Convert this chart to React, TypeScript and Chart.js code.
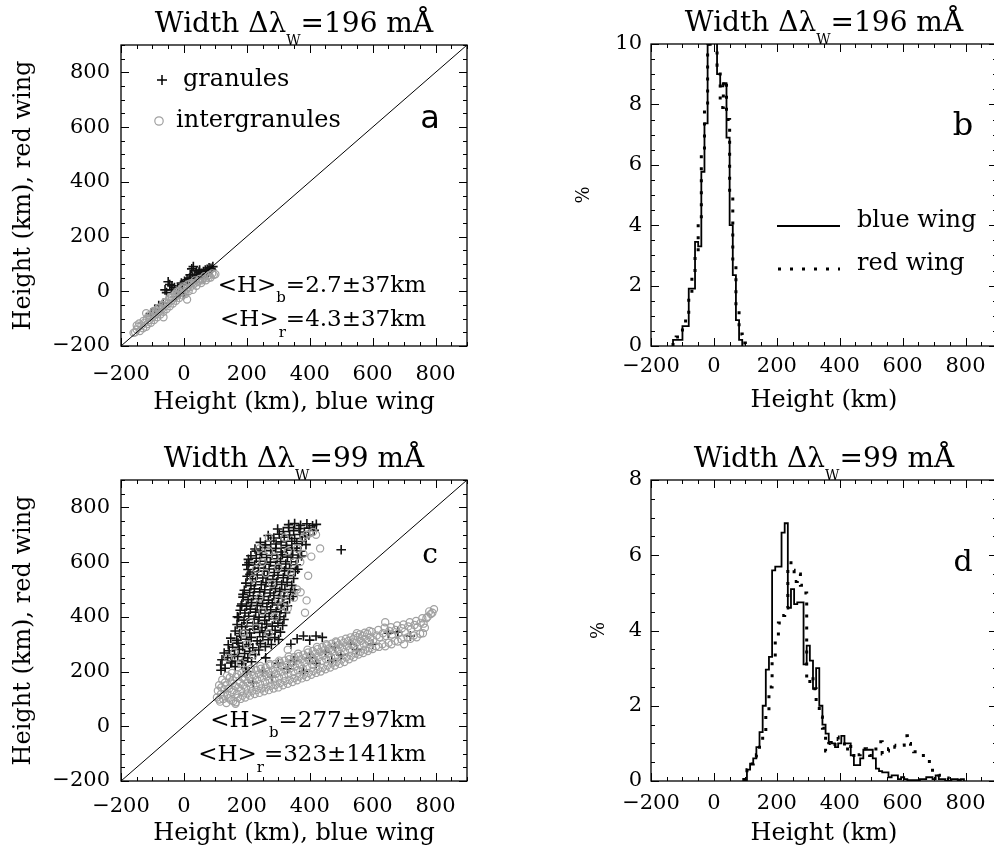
import React, { useEffect, useRef } from "react";
import { Chart, registerables } from "chart.js";

Chart.register(...registerables);

const SERIF = "'DejaVu Serif', serif";
const SANS = "'DejaVu Sans', sans-serif";

// ---------------- axes ----------------
const HEIGHT_MIN = -200;
const HEIGHT_MAX = 900;
const HEIGHT_TICKS = [-200, 0, 200, 400, 600, 800];
const PERCENT_TICKS_B = [0, 2, 4, 6, 8, 10];
const PERCENT_TICKS_D = [0, 2, 4, 6, 8];
const DIAGONAL = [-200, 900];

// ---------------- panel a : width 196 mÅ ----------------
const granulesA: [number, number][] = [
  [30, 90], [25, 82], [40, 75], [48, 70], [55, 66], [62, 72], [68, 78], [74, 80], [80, 86], [86, 84],
  [92, 90], [88, 78], [78, 70], [66, 64], [58, 58], [45, 62], [35, 60], [28, 52], [18, 48], [10, 42],
  [2, 36], [-8, 30], [-50, 35], [-45, 25], [-38, 20], [-30, 14], [-55, -5], [-60, 5], [-20, 12], [-12, -5],
  [0, -12], [10, 28], [-25, -20], [-66, -44], [-80, -52], [-92, -66], [-105, -82], [40, 44], [60, 52], [-5, 24],
  [70, 66], [84, 74], [50, 78], [20, 60], [-40, 5],
];
const intergranulesA: [number, number][] = [
  [-155, -150], [-150, -140], [-145, -130], [-140, -145], [-135, -125], [-130, -135], [-125, -115], [-120, -130],
  [-118, -100], [-115, -120], [-110, -105], [-108, -90], [-105, -115], [-100, -95], [-98, -80], [-95, -105],
  [-90, -85], [-88, -70], [-85, -95], [-80, -75], [-78, -60], [-75, -85], [-70, -65], [-68, -50], [-65, -75],
  [-60, -55], [-58, -40], [-55, -65], [-50, -45], [-48, -30], [-45, -55], [-40, -35], [-38, -20], [-35, -45],
  [-30, -25], [-28, -10], [-25, -35], [-20, -15], [-18, 0], [-15, -25], [-10, -5], [-8, 10], [-5, -15], [0, 0],
  [2, 15], [5, -10], [10, 10], [12, 25], [15, 0], [20, 15], [25, 30], [28, 5], [30, 25], [35, 40], [40, 20],
  [45, 35], [50, 45], [55, 30], [60, 45], [65, 55], [70, 40], [75, 55], [80, 60], [85, 50], [90, 65], [95, 60],
  [100, 62], [10, -30], [-120, -80], [-65, -95], [-142, -118], [-128, -108], [-112, -88], [-96, -72], [-82, -62],
  [-62, -42], [-44, -22], [-22, -2], [-2, 18], [18, 28], [38, 32], [58, 40], [78, 48], [-160, -152], [-150, -125],
];

// ---------------- panel c : width 99 mÅ ----------------
const granulesC: [number, number][] = [
  [117, 224], [131, 212], [149, 231], [163, 218], [184, 229], [196, 214],
  [121, 243], [139, 251], [152, 238], [171, 255], [189, 240], [203, 250], [215, 236],
  [128, 268], [144, 276], [161, 262], [176, 281], [193, 266], [209, 274], [227, 262], [238, 279],
  [141, 298], [155, 289], [172, 304], [187, 292], [206, 299], [219, 287], [243, 302], [259, 291], [278, 299],
  [149, 322], [168, 314], [181, 329], [199, 318], [214, 325], [233, 312], [251, 327], [268, 316], [289, 324], [301, 317],
  [163, 348], [177, 339], [196, 352], [209, 341], [224, 355], [241, 343], [259, 349], [273, 337], [290, 351], [307, 344],
  [169, 372], [184, 364], [201, 378], [219, 366], [236, 376], [248, 361], [263, 374], [281, 366], [299, 377], [314, 368],
  [174, 398], [191, 388], [206, 402], [223, 391], [239, 399], [257, 387], [271, 401], [288, 392], [305, 400], [318, 390],
  [179, 424], [194, 414], [211, 428], [228, 417], [244, 425], [259, 412], [276, 426], [293, 418], [309, 427], [323, 415],
  [184, 447], [199, 439], [215, 452], [233, 441], [250, 449], [264, 437], [281, 451], [297, 443], [314, 452], [329, 440],
  [188, 472], [204, 463], [221, 477], [237, 466], [254, 474], [269, 461], [286, 478], [301, 468], [318, 476], [336, 466], [347, 474],
  [192, 497], [209, 489], [224, 502], [241, 491], [257, 499], [274, 487], [291, 503], [305, 493], [321, 500], [339, 490], [352, 499],
  [197, 523], [213, 514], [228, 528], [246, 517], [261, 525], [279, 512], [295, 527], [311, 518], [328, 526], [343, 515],
  [201, 548], [218, 539], [233, 553], [251, 542], [266, 550], [283, 537], [299, 552], [316, 543], [331, 551], [349, 540],
  [204, 573], [221, 564], [237, 578], [255, 567], [271, 575], [287, 562], [303, 577], [320, 568], [336, 576], [354, 565], [362, 574],
  [207, 598], [225, 589], [241, 603], [259, 592], [275, 600], [292, 587], [307, 602], [324, 593], [341, 601], [357, 590],
  [213, 623], [230, 614], [247, 628], [263, 617], [280, 625], [296, 612], [313, 627], [329, 618], [346, 626], [363, 615], [374, 622],
  [226, 648], [243, 639], [259, 653], [276, 642], [292, 650], [309, 637], [326, 652], [343, 643], [359, 651], [371, 640],
  [243, 672], [259, 663], [276, 677], [293, 666], [309, 674], [326, 661], [343, 676], [359, 667], [376, 675], [388, 664],
  [268, 697], [286, 688], [303, 702], [319, 691], [336, 699], [352, 686], [369, 701], [386, 692], [397, 699],
  [298, 721], [316, 712], [333, 726], [349, 715], [366, 723], [383, 710], [399, 724], [414, 716],
  [333, 737], [352, 741], [371, 734], [391, 740], [409, 733], [421, 738],
  [205, 610], [200, 590], [210, 555], [188, 482], [182, 440], [170, 400], [118, 205], [230, 640],
  [500, 645], [650, 340], [680, 345], [720, 330], [380, 330], [420, 330], [360, 320], [340, 300], [400, 315], [440, 325],
  [250, 200], [300, 230], [350, 240], [400, 250], [450, 270], [500, 260], [550, 280], [220, 160], [280, 180],
  [330, 210], [420, 230], [480, 290], [530, 300], [200, 200], [260, 250], [600, 300], [380, 200], [470, 240],
];
const intergranulesC: [number, number][] = [
  [105, 105], [108, 130], [115, 90], [118, 118], [112, 150], [125, 100], [128, 135], [122, 170],
  [135, 85], [138, 115], [133, 150], [137, 185], [150, 95], [152, 125], [148, 160], [153, 195],
  [165, 88], [168, 118], [162, 148], [166, 180], [180, 100], [182, 130], [178, 160], [183, 195],
  [195, 105], [198, 138], [193, 170], [197, 205], [210, 112], [212, 145], [208, 178], [213, 210],
  [225, 118], [228, 150], [223, 185], [240, 122], [242, 155], [238, 190], [243, 220],
  [255, 128], [258, 162], [253, 195], [270, 132], [272, 168], [268, 200], [273, 228],
  [285, 138], [288, 172], [283, 205], [300, 142], [302, 178], [298, 212], [303, 240],
  [315, 150], [318, 185], [313, 218], [330, 155], [332, 190], [328, 225], [333, 255],
  [345, 162], [348, 198], [343, 232], [360, 168], [362, 205], [358, 238], [363, 265],
  [375, 175], [378, 210], [373, 245], [390, 180], [392, 218], [388, 252], [393, 280],
  [405, 188], [408, 225], [403, 258], [420, 195], [422, 232], [418, 265], [423, 290],
  [435, 200], [438, 238], [433, 272], [450, 208], [452, 245], [448, 280], [453, 300],
  [465, 215], [468, 252], [463, 285], [480, 222], [482, 258], [478, 292], [483, 310],
  [495, 228], [498, 265], [493, 298], [510, 235], [512, 272], [508, 305],
  [525, 245], [528, 280], [523, 312], [540, 252], [542, 288], [538, 318],
  [555, 262], [558, 295], [553, 325], [550, 340], [570, 268], [572, 300], [568, 330],
  [585, 275], [588, 308], [583, 338], [600, 282], [602, 315], [598, 345],
  [620, 290], [622, 325], [618, 352], [640, 292], [642, 330], [638, 360], [640, 380],
  [660, 300], [662, 335], [658, 362], [680, 310], [682, 340], [678, 368],
  [700, 300], [702, 345], [698, 372], [720, 320], [722, 355], [718, 380],
  [740, 325], [742, 362], [738, 385], [760, 340], [762, 375], [758, 395],
  [780, 420], [785, 410], [775, 400], [795, 428], [790, 415], [385, 415], [330, 280], [164, 82],
  [112, 98], [119, 142], [127, 112], [131, 160], [142, 102], [144, 138], [146, 178], [157, 92], [158, 132], [156, 168],
  [171, 104], [173, 142], [170, 190], [186, 112], [188, 150], [185, 178], [201, 120], [203, 158], [200, 190],
  [216, 128], [218, 165], [215, 198], [231, 132], [233, 170], [230, 205], [246, 138], [248, 176], [245, 210],
  [261, 142], [263, 182], [260, 215], [276, 148], [278, 188], [275, 222], [291, 152], [293, 192], [290, 228],
  [306, 158], [308, 198], [305, 232], [321, 165], [323, 205], [320, 240], [336, 170], [338, 212], [335, 245],
  [351, 176], [353, 218], [350, 252], [366, 182], [368, 225], [365, 256], [381, 188], [383, 232], [380, 262],
  [396, 195], [398, 240], [395, 270], [411, 202], [413, 245], [410, 275], [426, 208], [428, 252], [425, 282],
  [441, 214], [443, 258], [440, 290], [456, 222], [458, 265], [455, 295], [471, 230], [473, 272], [470, 302],
  [486, 236], [488, 280], [485, 306], [501, 244], [503, 286], [500, 314], [516, 252], [518, 292], [515, 320],
  [531, 258], [533, 298], [530, 325], [546, 266], [548, 305], [545, 330], [561, 272], [563, 312], [560, 336],
  [576, 280], [578, 318], [575, 342], [591, 285], [593, 325], [590, 348], [611, 292], [613, 332], [631, 300],
  [633, 340], [651, 305], [653, 348], [671, 312], [673, 352], [691, 318], [693, 358], [711, 325], [713, 365],
  [731, 332], [733, 370], [751, 338], [753, 378], [771, 395], [766, 360],
  [140, 250], [160, 270], [180, 230], [200, 300], [220, 260], [190, 340], [210, 380], [230, 360],
  [250, 420], [270, 340], [290, 400], [310, 440], [330, 430], [350, 470], [371, 490], [390, 460],
  [360, 500], [320, 480], [280, 520], [240, 470], [220, 540], [260, 560], [300, 580], [340, 560],
  [370, 600], [380, 630], [360, 650], [330, 640], [290, 620], [250, 600], [230, 575], [270, 690],
  [320, 690], [390, 700], [400, 705], [410, 710], [420, 700], [433, 650], [380, 690], [350, 600],
  [405, 620], [395, 550], [300, 460], [270, 640], [240, 650],
];

// ---------------- panel b : histogram, width 196 mÅ ----------------
const HIST_B_START = -130;
const HIST_B_BIN = 10;
const blueWingB = [0.2, 0.2, 0.2, 0.66, 0.66, 1.9, 1.9, 3.45, 3.3, 5.77, 7.37, 9.97, 10.8, 10.5, 9.0, 8.6, 8.7, 6.9, 4.0, 2.35, 0.86, 0.2];
const redWingB = [0.15, 0.3, 0.4, 0.6, 1.0, 1.7, 2.5, 3.0, 4.2, 6.4, 7.8, 10.0, 10.9, 10.2, 9.3, 7.9, 8.8, 7.5, 5.0, 2.8, 1.2, 0.4, 0.1];

// ---------------- panel d : histogram, width 99 mÅ ----------------
const HIST_D_START = 95;
const HIST_D_BIN = 10;
const blueWingD = [
  0, 0.3, 0.46, 0.6, 0.9, 1.3, 2.0, 2.96, 3.3, 5.6,
  5.7, 5.7, 6.6, 6.85, 4.6, 5.1, 4.7, 4.75, 4.75, 3.1,
  3.6, 3.2, 2.45, 3.0, 2.0, 1.5, 1.26, 1.04, 1.0, 0.9,
  1.0, 1.2, 1.0, 1.0, 0.68, 0.42, 0.42, 0.6, 0.83, 0.83,
  0.83, 0.6, 0.33, 0.26, 0.23, 0.23, 0.1, 0.15, 0.15, 0.05,
  0.1, 0.05, 0.02, 0.02, 0.02, 0.02, 0.05, 0.05, 0.1, 0.1,
  0.05, 0.15, 0.05, 0.05, 0, 0, 0.05, 0.05, 0, 0.05,
];
const redWingD = [
  0.1, 0.3, 0.45, 0.5, 0.7, 1.0, 1.3, 1.8, 2.5, 3.2,
  3.8, 4.2, 4.4, 4.6, 5.8, 5.6, 5.3, 5.5, 5.2, 5.0,
  2.6, 2.8, 2.45, 2.0, 1.7, 1.4, 0.8, 1.0, 0.9, 1.17,
  1.1, 1.04, 0.8, 1.0, 0.8, 0.6, 0.7, 0.86, 0.86, 0.75,
  0.68, 0.8, 0.9, 1.04, 0.72, 0.8, 0.86, 0.95, 0.9, 0.92,
  0.95, 1.2, 1.0, 0.9, 0.78, 0.68, 0.68, 0.68, 0.6, 0.37,
  0.24, 0.2, 0.15, 0.1, 0.08, 0.05, 0.02, 0.02, 0.02, 0.02,
];

// ---------------- helpers ----------------
const fmt = (v: number) => (v < 0 ? "\u2212" + Math.abs(v) : String(v));
const toPts = (arr: [number, number][]) => arr.map(([x, y]) => ({ x, y }));
function stepPoints(start: number, bin: number, values: number[]) {
  const pts = [{ x: start, y: 0 }];
  values.forEach((v, i) => pts.push({ x: start + i * bin, y: v }));
  pts.push({ x: start + values.length * bin, y: 0 });
  return pts;
}

type Part = { t: string; size: number; dy?: number; family?: string };
function drawRich(ctx: CanvasRenderingContext2D, parts: Part[], x: number, y: number, align: "left" | "center" | "right") {
  const widths = parts.map((p) => {
    ctx.font = `${p.size}px ${p.family || SERIF}`;
    return ctx.measureText(p.t).width;
  });
  const total = widths.reduce((a, b) => a + b, 0);
  let cx = align === "left" ? x : align === "center" ? x - total / 2 : x - total;
  ctx.textAlign = "left";
  ctx.textBaseline = "alphabetic";
  ctx.fillStyle = "#000";
  parts.forEach((p, i) => {
    ctx.font = `${p.size}px ${p.family || SERIF}`;
    ctx.fillText(p.t, cx, y + (p.dy || 0));
    cx += widths[i];
  });
}

function framePlugin(xMajor: number, xMinor: number, yMajor: number, yMinor: number) {
  return {
    id: "frameTicks",
    afterDatasetsDraw(chart: any) {
      const { ctx, chartArea: a, scales } = chart;
      const xs = scales.x;
      const ys = scales.y;
      ctx.save();
      ctx.strokeStyle = "#000";
      ctx.lineWidth = 1.3;
      ctx.strokeRect(a.left, a.top, a.right - a.left, a.bottom - a.top);
      ctx.beginPath();
      const major = 8;
      const minor = 4;
      for (let v = xs.min; v <= xs.max + 1e-9; v += xMinor) {
        const isMajor = Math.abs(((v - xs.min) / xMajor) - Math.round((v - xs.min) / xMajor)) < 1e-6;
        const len = isMajor ? major : minor;
        const p = Math.round(xs.getPixelForValue(v)) + 0.5;
        ctx.moveTo(p, a.bottom);
        ctx.lineTo(p, a.bottom - len);
        ctx.moveTo(p, a.top);
        ctx.lineTo(p, a.top + len);
      }
      for (let v = ys.min; v <= ys.max + 1e-9; v += yMinor) {
        const isMajor = Math.abs(((v - ys.min) / yMajor) - Math.round((v - ys.min) / yMajor)) < 1e-6;
        const len = isMajor ? major : minor;
        const p = Math.round(ys.getPixelForValue(v)) + 0.5;
        ctx.moveTo(a.left, p);
        ctx.lineTo(a.left + len, p);
        ctx.moveTo(a.right, p);
        ctx.lineTo(a.right - len, p);
      }
      ctx.lineWidth = 1;
      ctx.stroke();
      ctx.restore();
    },
  };
}

type Layout = { yWidth: number; padTop: number; padRight: number; xHeight: number; xTickPad: number; xTitlePad: number; yTickPad: number; yTitlePad: number };

function axes(L: Layout, xTitle: string, yTitle: string, yTitleSize: number, yMin: number, yMax: number, yTicks: number[]) {
  return {
    x: {
      type: "linear",
      min: HEIGHT_MIN,
      max: HEIGHT_MAX,
      afterBuildTicks: (s: any) => {
        s.ticks = HEIGHT_TICKS.map((v) => ({ value: v }));
      },
      afterFit: (s: any) => {
        s.height = L.xHeight;
      },
      grid: { display: false, drawTicks: false },
      border: { display: false },
      ticks: { color: "#000", font: { family: SERIF, size: 21 }, padding: L.xTickPad, autoSkip: false, maxRotation: 0, callback: (v: number) => fmt(v) },
      title: { display: true, text: xTitle, color: "#000", font: { family: SERIF, size: 24 }, padding: { top: 0, bottom: L.xTitlePad } },
    },
    y: {
      type: "linear",
      min: yMin,
      max: yMax,
      afterBuildTicks: (s: any) => {
        s.ticks = yTicks.map((v) => ({ value: v }));
      },
      afterFit: (s: any) => {
        s.width = L.yWidth;
      },
      grid: { display: false, drawTicks: false },
      border: { display: false },
      ticks: { color: "#000", font: { family: SERIF, size: 21 }, padding: L.yTickPad, autoSkip: false, callback: (v: number) => fmt(v) },
      title: { display: true, text: yTitle, color: "#000", font: { family: SERIF, size: yTitleSize }, padding: { top: L.yTitlePad, bottom: 0 } },
    },
  };
}

function baseOptions(L: Layout, scales: any) {
  return {
    responsive: false,
    animation: false,
    devicePixelRatio: 1,
    events: [],
    layout: { padding: { top: L.padTop, right: L.padRight, left: 0, bottom: 0 } },
    plugins: { legend: { display: false }, tooltip: { enabled: false }, title: { display: false } },
    scales,
  };
}

function titleParts(width: string): Part[] {
  return [
    { t: "Width \u0394\u03bb", size: 28 },
    { t: "W", size: 14, dy: 13 },
    { t: "=" + width + " m\u00c5", size: 28 },
  ];
}

function scatterConfig(L: Layout, granules: [number, number][], inter: [number, number][], width: string, letter: string, letterFont: string, letterSize: number, statB: string, statR: string, withLegend: boolean) {
  const annot = {
    id: "annot",
    afterDraw(chart: any) {
      const { ctx, chartArea: a } = chart;
      ctx.save();
      drawRich(ctx, titleParts(width), (a.left + a.right) / 2, a.top - 13, "center");
      drawRich(ctx, [{ t: letter, size: letterSize, family: letterFont }], a.left + 309, a.top + 83, "center");
      drawRich(ctx, [{ t: "<H>", size: 23 }, { t: "b", size: 15, dy: 10 }, { t: statB, size: 23 }], a.left + 305, a.bottom - 54, "right");
      drawRich(ctx, [{ t: "<H>", size: 23 }, { t: "r", size: 15, dy: 11 }, { t: statR, size: 23 }], a.left + 305, a.bottom - 20, "right");
      if (withLegend) {
        ctx.strokeStyle = "#000";
        ctx.lineWidth = 1.5;
        ctx.beginPath();
        const px = a.left + 41, py = a.top + 35;
        ctx.moveTo(px - 5, py); ctx.lineTo(px + 5, py);
        ctx.moveTo(px, py - 5); ctx.lineTo(px, py + 5);
        ctx.stroke();
        drawRich(ctx, [{ t: "granules", size: 24 }], a.left + 62, a.top + 41, "left");
        ctx.strokeStyle = "#a0a0a0";
        ctx.lineWidth = 1.2;
        ctx.beginPath();
        ctx.arc(a.left + 38, a.top + 76, 4.2, 0, Math.PI * 2);
        ctx.stroke();
        drawRich(ctx, [{ t: "intergranules", size: 24 }], a.left + 55, a.top + 82, "left");
      }
      ctx.restore();
    },
  };
  return {
    type: "scatter",
    data: {
      datasets: [
        { label: "diagonal", data: DIAGONAL.map((v) => ({ x: v, y: v })), showLine: true, pointRadius: 0, borderColor: "#000", borderWidth: 1 },
        { label: "intergranules", data: toPts(inter), pointStyle: "circle", pointRadius: 3.6, backgroundColor: "rgba(0,0,0,0)", borderColor: "#a0a0a0", borderWidth: 1.2 },
        { label: "granules", data: toPts(granules), pointStyle: "cross", pointRadius: 4.8, borderColor: "#111", borderWidth: 1.6 },
      ],
    },
    options: baseOptions(L, axes(L, "Height (km), blue wing", "Height (km), red wing", 24, HEIGHT_MIN, HEIGHT_MAX, HEIGHT_TICKS)),
    plugins: [framePlugin(200, 50, 200, 50), annot],
  };
}

function histConfig(L: Layout, start: number, bin: number, blue: number[], red: number[], yMax: number, yTicks: number[], width: string, letter: string, letterSize: number, withLegend: boolean) {
  const annot = {
    id: "annot",
    afterDraw(chart: any) {
      const { ctx, chartArea: a } = chart;
      ctx.save();
      drawRich(ctx, titleParts(width), (a.left + a.right) / 2, a.top - 13, "center");
      drawRich(ctx, [{ t: letter, size: letterSize }], a.left + 312, a.top + 91, "center");
      if (withLegend) {
        ctx.strokeStyle = "#000";
        ctx.lineWidth = 1.8;
        ctx.beginPath();
        ctx.moveTo(a.left + 126, a.top + 182);
        ctx.lineTo(a.left + 189, a.top + 182);
        ctx.stroke();
        ctx.lineWidth = 3;
        ctx.setLineDash([3, 9]);
        ctx.beginPath();
        ctx.moveTo(a.left + 127, a.top + 225);
        ctx.lineTo(a.left + 189, a.top + 225);
        ctx.stroke();
        ctx.setLineDash([]);
        drawRich(ctx, [{ t: "blue wing", size: 24 }], a.left + 206, a.top + 183, "left");
        drawRich(ctx, [{ t: "red wing", size: 24 }], a.left + 206, a.top + 226, "left");
      }
      ctx.restore();
    },
  };
  return {
    type: "scatter",
    data: {
      datasets: [
        { label: "blue wing", data: stepPoints(start, bin, blue), showLine: true, stepped: "before", pointRadius: 0, borderColor: "#000", borderWidth: 1.8, clip: 0 },
        { label: "red wing", data: stepPoints(start, bin, red), showLine: true, stepped: "before", pointRadius: 0, borderColor: "#000", borderWidth: 3, borderDash: [3, 9], clip: 0 },
      ],
    },
    options: baseOptions(L, axes(L, "Height (km)", "%", 18, 0, yMax, yTicks)),
    plugins: [framePlugin(200, 50, 2, 0.5), annot],
  };
}

function ChartCanvas({ left, top, width, height, build }: { left: number; top: number; width: number; height: number; build: () => any }) {
  const ref = useRef<HTMLCanvasElement | null>(null);
  useEffect(() => {
    const chart = new Chart(ref.current as HTMLCanvasElement, build());
    return () => chart.destroy();
  }, []);
  return <canvas ref={ref} width={width} height={height} style={{ position: "absolute", left, top, width, height }} />;
}

const LAYOUT_A: Layout = { yWidth: 121, padTop: 45, padRight: 30, xHeight: 81, xTickPad: 16, xTitlePad: 10, yTickPad: 11, yTitlePad: 9 };
const LAYOUT_B: Layout = { yWidth: 154, padTop: 44, padRight: 10, xHeight: 81, xTickPad: 8, xTitlePad: 12, yTickPad: 9, yTitlePad: 77 };
const LAYOUT_C: Layout = { yWidth: 121, padTop: 53, padRight: 30, xHeight: 73, xTickPad: 13, xTitlePad: 6, yTickPad: 11, yTitlePad: 9 };
const LAYOUT_D: Layout = { yWidth: 154, padTop: 53, padRight: 10, xHeight: 73, xTickPad: 10, xTitlePad: 6, yTickPad: 9, yTitlePad: 92 };

export default function App() {
  return (
    <div style={{ position: "absolute", left: 0, top: 0, width: 994, height: 854, overflow: "hidden", background: "#fff" }}>
      <ChartCanvas left={0} top={0} width={497} height={427}
        build={() => scatterConfig(LAYOUT_A, granulesA, intergranulesA, "196", "a", SANS, 32, "=2.7\u00b137km", "=4.3\u00b137km", true)} />
      <ChartCanvas left={497} top={0} width={510} height={427}
        build={() => histConfig(LAYOUT_B, HIST_B_START, HIST_B_BIN, blueWingB, redWingB, 10, PERCENT_TICKS_B, "196", "b", 32, true)} />
      <ChartCanvas left={0} top={427} width={497} height={427}
        build={() => scatterConfig(LAYOUT_C, granulesC, intergranulesC, "99", "c", SERIF, 28, "=277\u00b197km", "=323\u00b1141km", false)} />
      <ChartCanvas left={497} top={427} width={510} height={427}
        build={() => histConfig(LAYOUT_D, HIST_D_START, HIST_D_BIN, blueWingD, redWingD, 8, PERCENT_TICKS_D, "99", "d", 30, false)} />
    </div>
  );
}
